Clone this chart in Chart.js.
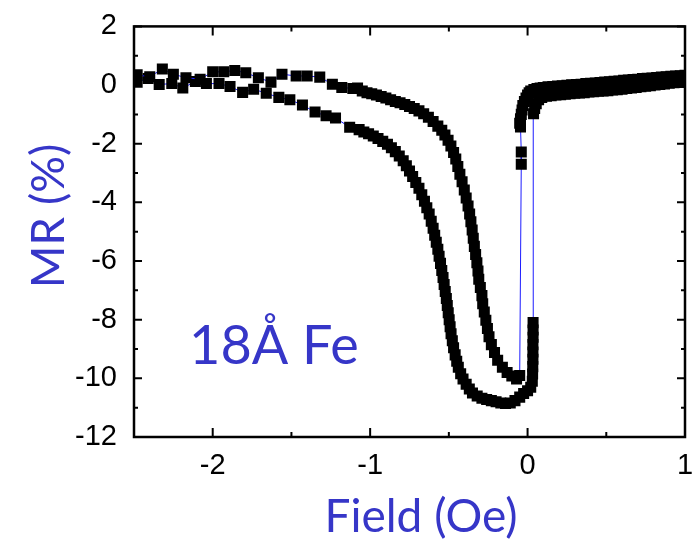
<!DOCTYPE html>
<html>
<head>
<meta charset="utf-8">
<title>MR loop, 18Å Fe</title>
<script src="https://cdn.jsdelivr.net/npm/chart.js@4/dist/chart.umd.min.js"></script>
<style>
  html, body { margin: 0; padding: 0; background: #fff; }
  canvas { display: block; }
</style>
</head>
<body>
<canvas id="mr" width="699" height="543"></canvas>
<script>
// Field sweep from +1 Oe towards negative fields
const downField = [
  1.00, 0.97, 0.94, 0.91, 0.88, 0.85, 0.82, 0.79, 0.76, 0.73,
  0.70, 0.67, 0.64, 0.61, 0.58, 0.55, 0.52, 0.49, 0.46, 0.43,
  0.40, 0.37, 0.34, 0.31, 0.28, 0.25, 0.22, 0.19, 0.16, 0.13,
  0.10, 0.08, 0.06, 0.04, 0.02, 0.01, 0.00, -0.01, -0.02, -0.03,
  -0.035, -0.04, -0.045, -0.05, -0.045,
  -0.04, -0.04,
  -0.05, -0.07, -0.10, -0.13, -0.16, -0.19, -0.21, -0.23, -0.245, -0.255,
  -0.265, -0.275, -0.285, -0.29, -0.30, -0.31, -0.315, -0.322, -0.33, -0.338,
  -0.345, -0.352, -0.36, -0.368, -0.378, -0.39, -0.402, -0.416, -0.43, -0.443,
  -0.456, -0.47, -0.487, -0.505, -0.525, -0.545, -0.57, -0.60, -0.63, -0.66,
  -0.69, -0.72, -0.75, -0.78, -0.81, -0.84, -0.87, -0.90, -0.93, -0.96,
  -0.99, -1.02, -1.05, -1.08, -1.11, -1.18, -1.24, -1.32, -1.40, -1.47,
  -1.56, -1.63, -1.71, -1.79, -1.86, -1.93, -2.00, -2.08, -2.17, -2.25,
  -2.32, -2.40, -2.48
];
const downMR = [
  0.33, 0.32, 0.31, 0.30, 0.28, 0.27, 0.26, 0.24, 0.23, 0.22,
  0.20, 0.19, 0.17, 0.16, 0.14, 0.13, 0.11, 0.10, 0.09, 0.07,
  0.06, 0.05, 0.03, 0.02, 0.01, -0.01, -0.02, -0.03, -0.05, -0.06,
  -0.08, -0.10, -0.12, -0.15, -0.20, -0.26, -0.34, -0.44, -0.56, -0.70,
  -0.85, -1.00, -1.15, -1.30, -1.43,
  -2.28, -2.70,
  -9.90, -10.02, -9.92, -9.80, -9.62, -9.38, -9.12, -8.85, -8.58, -8.30,
  -8.02, -7.74, -7.46, -7.18, -6.90, -6.62, -6.34, -6.06, -5.78, -5.50,
  -5.22, -4.94, -4.66, -4.40, -4.12, -3.85, -3.58, -3.30, -3.04, -2.78,
  -2.52, -2.30, -2.08, -1.88, -1.70, -1.54, -1.40, -1.24, -1.10, -0.98,
  -0.88, -0.80, -0.73, -0.66, -0.60, -0.56, -0.50, -0.44, -0.39, -0.34,
  -0.30, -0.26, -0.20, -0.10, -0.12, -0.08, 0.03, 0.27, 0.31, 0.31,
  0.37, 0.10, 0.25, 0.42, 0.50, 0.45, 0.45, 0.20, 0.25, 0.37,
  0.55, 0.28, 0.35
];

// Field sweep from -2.5 Oe back towards positive fields
const upField = [
  -2.48, -2.41, -2.34, -2.26, -2.19, -2.11, -2.04, -1.96, -1.89, -1.81,
  -1.74, -1.66, -1.58, -1.51, -1.43, -1.35, -1.28, -1.22, -1.13, -1.07,
  -1.04, -1.01, -0.98, -0.95, -0.92, -0.89, -0.865, -0.84, -0.815, -0.79,
  -0.77, -0.75, -0.73, -0.71, -0.69, -0.672, -0.655, -0.64, -0.625, -0.612,
  -0.60, -0.59, -0.58, -0.57, -0.562, -0.553, -0.545, -0.537, -0.53, -0.523,
  -0.516, -0.51, -0.504, -0.498, -0.492, -0.486, -0.478, -0.47, -0.46, -0.45,
  -0.44, -0.425, -0.41, -0.39, -0.37, -0.35, -0.32, -0.29, -0.26, -0.23,
  -0.20, -0.17, -0.14, -0.11, -0.08, -0.05, -0.025, 0.00, 0.02, 0.03,
  0.032, 0.033, 0.034, 0.034, 0.034, 0.035, 0.035, 0.035,
  0.038, 0.045, 0.055, 0.07, 0.09, 0.12, 0.15, 0.18, 0.21, 0.24,
  0.27, 0.30, 0.33, 0.36, 0.39, 0.42, 0.45, 0.48, 0.51, 0.54,
  0.57, 0.60, 0.63, 0.66, 0.69, 0.72, 0.75, 0.78, 0.81, 0.84,
  0.87, 0.90, 0.93, 0.96, 0.99
];
const upMR = [
  0.10, 0.22, 0.02, 0.05, -0.10, 0.12, 0.05, 0.05, -0.05, -0.25,
  -0.14, -0.28, -0.42, -0.50, -0.68, -0.92, -1.05, -1.12, -1.44, -1.52,
  -1.60, -1.66, -1.74, -1.82, -1.92, -2.02, -2.14, -2.27, -2.42, -2.58,
  -2.75, -2.93, -3.12, -3.32, -3.52, -3.74, -3.96, -4.18, -4.40, -4.64,
  -4.88, -5.12, -5.36, -5.60, -5.84, -6.08, -6.32, -6.56, -6.80, -7.04,
  -7.28, -7.52, -7.76, -8.00, -8.24, -8.48, -8.72, -8.96, -9.20, -9.42,
  -9.62, -9.84, -10.02, -10.20, -10.36, -10.50, -10.60, -10.68, -10.72, -10.76,
  -10.80, -10.84, -10.86, -10.84, -10.76, -10.64, -10.52, -10.42, -10.30, -10.10,
  -9.85, -9.60, -9.35, -9.10, -8.85, -8.60, -8.35, -8.10,
  -0.98, -0.80, -0.64, -0.50, -0.42, -0.38, -0.36, -0.34, -0.33, -0.31,
  -0.30, -0.28, -0.27, -0.26, -0.24, -0.23, -0.21, -0.20, -0.19, -0.17,
  -0.16, -0.14, -0.12, -0.10, -0.08, -0.06, -0.04, -0.02, 0.00, 0.02,
  0.04, 0.06, 0.08, 0.09, 0.10
];

// Axis ticks (labelled majors, unlabelled minors)
const xMajorTicks = [-2, -1, 0, 1];
const xMinorTicks = [-1.5, -0.5, 0.5];
const yMajorTicks = [2, 0, -2, -4, -6, -8, -10, -12];
const yMinorTicks = [1, -1, -3, -5, -7, -9, -11];

const xTitle = 'Field (Oe)';
const yTitle = 'MR (%)';
const sampleLabel = '18Å Fe';

const BLUE_TEXT = '#3636c8';
const TICK_FONT = { family: "'Liberation Sans', Arial, sans-serif", size: 29 };

const zip = (xs, ys) => xs.map((v, i) => ({ x: v, y: ys[i] }));

const seriesStyle = {
  showLine: true,
  borderColor: '#1c1cff',
  borderWidth: 1,
  pointStyle: 'rect',
  pointRadius: 7.8,
  pointHoverRadius: 7.8,
  pointBackgroundColor: '#000',
  pointBorderWidth: 0,
  tension: 0
};

// Boxed frame with inward ticks on all four sides, plus the text labels
const framePlugin = {
  id: 'frame',
  afterDatasetsDraw(chart) {
    const { ctx, chartArea: a, scales: { x, y } } = chart;
    ctx.save();
    ctx.strokeStyle = '#000';
    ctx.lineCap = 'butt';
    ctx.lineWidth = 2;
    ctx.beginPath();
    const xt = (v, len) => {
      const p = x.getPixelForValue(v);
      ctx.moveTo(p, a.bottom); ctx.lineTo(p, a.bottom - len);
      ctx.moveTo(p, a.top); ctx.lineTo(p, a.top + len);
    };
    const yt = (v, len) => {
      const p = y.getPixelForValue(v);
      ctx.moveTo(a.left, p); ctx.lineTo(a.left + len, p);
      ctx.moveTo(a.right, p); ctx.lineTo(a.right - len, p);
    };
    xMajorTicks.forEach(v => xt(v, 9));
    xMinorTicks.forEach(v => xt(v, 5));
    yMajorTicks.forEach(v => yt(v, 8));
    yMinorTicks.forEach(v => yt(v, 4));
    ctx.stroke();
    ctx.lineWidth = 2.5;
    ctx.strokeRect(a.left, a.top, a.right - a.left, a.bottom - a.top);
    ctx.restore();
  },
  afterDraw(chart) {
    const { ctx, scales: { x, y } } = chart;
    ctx.save();
    ctx.fillStyle = BLUE_TEXT;
    ctx.textBaseline = 'alphabetic';

    ctx.font = "46px Lato, 'Open Sans', sans-serif";
    ctx.textAlign = 'center';
    ctx.fillText(xTitle, 421, 532);

    ctx.save();
    ctx.translate(64, 216);
    ctx.rotate(-Math.PI / 2);
    ctx.fillText(yTitle, 0, 0);
    ctx.restore();

    ctx.font = "54px Lato, 'Open Sans', sans-serif";
    ctx.textAlign = 'left';
    ctx.fillText(sampleLabel, x.getPixelForValue(-2.15), y.getPixelForValue(-9.5));
    ctx.restore();
  }
};

new Chart(document.getElementById('mr'), {
  type: 'scatter',
  data: {
    datasets: [
      Object.assign({ label: 'down', data: zip(downField, downMR) }, seriesStyle),
      Object.assign({ label: 'up', data: zip(upField, upMR) }, seriesStyle)
    ]
  },
  options: {
    responsive: false,
    animation: false,
    devicePixelRatio: 1,
    layout: { padding: { top: 24, right: 14, left: 0, bottom: 0 } },
    plugins: { legend: { display: false }, tooltip: { enabled: false } },
    scales: {
      x: {
        type: 'linear',
        min: -2.5,
        max: 1,
        afterFit: s => { s.height = 106; },
        afterBuildTicks: s => { s.ticks = xMajorTicks.map(v => ({ value: v })); },
        ticks: { font: TICK_FONT, color: '#000', padding: 4, maxRotation: 0 },
        grid: { display: false },
        border: { display: false }
      },
      y: {
        type: 'linear',
        min: -12,
        max: 2,
        afterFit: s => { s.width = 134; },
        afterBuildTicks: s => { s.ticks = yMajorTicks.map(v => ({ value: v })); },
        ticks: { font: TICK_FONT, color: '#000', padding: 9 },
        grid: { display: false },
        border: { display: false }
      }
    }
  },
  plugins: [framePlugin]
});
</script>
</body>
</html>
